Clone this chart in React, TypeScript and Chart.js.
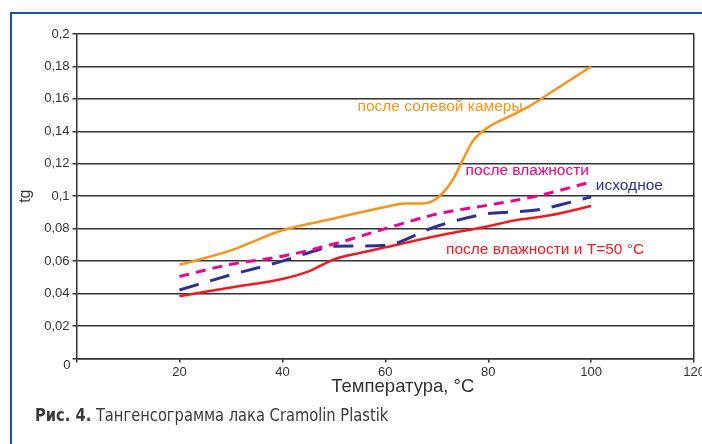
import React, { useEffect, useRef } from 'react';
import { Chart, registerables } from 'chart.js';

Chart.register(...registerables);

// after salt chamber (orange)
const saltX = [20, 30, 40, 50, 60, 64, 67, 70, 73, 75, 77, 80, 84, 88, 92, 100];
const saltY = [0.0577, 0.0666, 0.079, 0.0862, 0.0934, 0.0955, 0.0955, 0.0986, 0.1095, 0.122, 0.134, 0.1425, 0.149, 0.1555, 0.1636, 0.18];
// after humidity (magenta, short dashes)
const humX = [20, 30, 40, 50, 60, 70, 80, 90, 100];
const humY = [0.0505, 0.058, 0.063, 0.0705, 0.08, 0.089, 0.0945, 0.1005, 0.1088];
// initial (navy, long dashes)
const origX = [20, 30, 40, 47, 50, 55, 60, 70, 80, 85, 90, 95, 100];
const origY = [0.0422, 0.0515, 0.06, 0.067, 0.0692, 0.0693, 0.0697, 0.0815, 0.0893, 0.0903, 0.0918, 0.0955, 0.0996];
// after humidity and T=50 °C (red)
const heatX = [20, 30, 40, 45, 50, 55, 60, 70, 80, 85, 92, 100];
const heatY = [0.0383, 0.0437, 0.049, 0.0535, 0.061, 0.065, 0.0685, 0.0755, 0.0815, 0.085, 0.0882, 0.094];

const seriesNames = ['после солевой камеры', 'после влажности', 'исходное', 'после влажности и T=50 °C'];
const seriesColors = ['#f7941d', '#ec008c', '#2e3192', '#ed1c24'];
// label anchors in data units (x °C, y tg)
const labelX = [54.6, 75.6, 100.9, 71.8];
const labelY = [0.155, 0.1157, 0.1062, 0.067];

const yTicksMin = 0;
const yTicksMax = 0.2;
const yStep = 0.02;
const xMin = 0;
const xMax = 120;
const xStep = 20;

const xTitle = 'Температура, °C';
const yTitle = 'tg';

function pts(xs: number[], ys: number[]) {
  return xs.map((x, i) => ({ x, y: ys[i] }));
}

const FONT = '"Liberation Sans", Arial, sans-serif';

export default function App() {
  const ref = useRef<HTMLCanvasElement>(null);

  useEffect(() => {
    const labelPlugin = {
      id: 'seriesLabels',
      afterDatasetsDraw(chart: any) {
        const { ctx, scales } = chart;
        const xs = scales.x;
        const ys = scales.y;
        ctx.save();
        ctx.font = '15.5px ' + FONT;
        ctx.textBaseline = 'middle';
        ctx.textAlign = 'left';
        seriesNames.forEach((name, i) => {
          ctx.fillStyle = seriesColors[i];
          ctx.fillText(name, xs.getPixelForValue(labelX[i]), ys.getPixelForValue(labelY[i]));
        });
        // x title (offset to the right as in the original)
        ctx.fillStyle = '#333';
        ctx.font = '18.5px ' + FONT;
        ctx.textAlign = 'center';
        ctx.fillText(xTitle, xs.getPixelForValue(63.4), ys.bottom + 29);
        // origin label
        ctx.font = '13px ' + FONT;
        ctx.textAlign = 'right';
        ctx.fillText('0', xs.left - 6, ys.bottom + 7);
        ctx.restore();
      },
    };

    const fmt = (v: number) => {
      if (Math.abs(v) < 1e-9) return '';
      return String(+v.toFixed(2)).replace('.', ',');
    };

    const chart = new Chart(ref.current as HTMLCanvasElement, {
      type: 'line',
      data: {
        datasets: [
          {
            label: seriesNames[0],
            data: pts(saltX, saltY),
            borderColor: seriesColors[0],
            borderWidth: 2.5,
            pointRadius: 0,
            cubicInterpolationMode: 'monotone',
          },
          {
            label: seriesNames[1],
            data: pts(humX, humY),
            borderColor: seriesColors[1],
            borderWidth: 3,
            borderDash: [10, 7],
            pointRadius: 0,
            cubicInterpolationMode: 'monotone',
          },
          {
            label: seriesNames[2],
            data: pts(origX, origY),
            borderColor: seriesColors[2],
            borderWidth: 3,
            borderDash: [20, 12],
            pointRadius: 0,
            cubicInterpolationMode: 'monotone',
          },
          {
            label: seriesNames[3],
            data: pts(heatX, heatY),
            borderColor: seriesColors[3],
            borderWidth: 2.5,
            pointRadius: 0,
            cubicInterpolationMode: 'monotone',
          },
        ],
      },
      options: {
        animation: false,
        responsive: false,
        maintainAspectRatio: false,
        layout: { padding: { left: 12, right: 0, top: 34, bottom: 62 } },
        plugins: {
          legend: { display: false },
          tooltip: { enabled: false },
        },
        scales: {
          x: {
            type: 'linear',
            min: xMin,
            max: xMax,
            ticks: {
              stepSize: xStep,
              color: '#333',
              font: { family: FONT, size: 13 },
              padding: 2,
              maxRotation: 0,
              callback: (v: any) => fmt(Number(v)),
            },
            grid: {
              color: (c: any) => (c.tick && c.tick.value === xMax ? '#333' : 'rgba(0,0,0,0)'),
              tickColor: '#333',
              tickLength: 4,
              lineWidth: 1.5,
            },
            border: { display: true, color: '#333', width: 1.5 },
          },
          y: {
            type: 'linear',
            min: yTicksMin,
            max: yTicksMax,
            ticks: {
              stepSize: yStep,
              color: '#333',
              font: { family: FONT, size: 13 },
              padding: 3,
              callback: (v: any) => fmt(Number(v)),
            },
            grid: {
              color: '#333',
              tickColor: '#333',
              tickLength: 4,
              lineWidth: 1.5,
            },
            border: { display: true, color: '#333', width: 1.5 },
            title: {
              display: true,
              text: yTitle,
              color: '#333',
              font: { family: FONT, size: 16 },
              padding: { top: 4, bottom: 6 },
            },
          },
        },
      },
      plugins: [labelPlugin],
    } as any);
    return () => chart.destroy();
  }, []);

  return (
    <div
      style={{
        position: 'fixed',
        left: 0,
        top: 0,
        width: 702,
        height: 444,
        overflow: 'hidden',
        background: '#fff',
      }}
    >
      <canvas
        ref={ref}
        width={707}
        height={444}
        style={{ position: 'absolute', left: 0, top: 0, width: 707, height: 444 }}
      />
      <div style={{ position: 'absolute', left: 10, top: 12, width: 692, height: 2, background: '#1a53a0' }} />
      <div style={{ position: 'absolute', left: 10, top: 12, width: 2, height: 432, background: '#1a53a0' }} />
      <div
        style={{
          position: 'absolute',
          left: 35,
          top: 405,
          whiteSpace: 'nowrap',
          fontFamily: '"DejaVu Sans Condensed", "DejaVu Sans", sans-serif',
          fontSize: 17,
          color: '#3a3a3a',
          transformOrigin: 'left top',
          transform: 'scaleX(0.96)',
          lineHeight: '20px',
        }}
      >
        <b>Рис. 4.</b> Тангенсограмма лака Cramolin Plastik
      </div>
    </div>
  );
}
